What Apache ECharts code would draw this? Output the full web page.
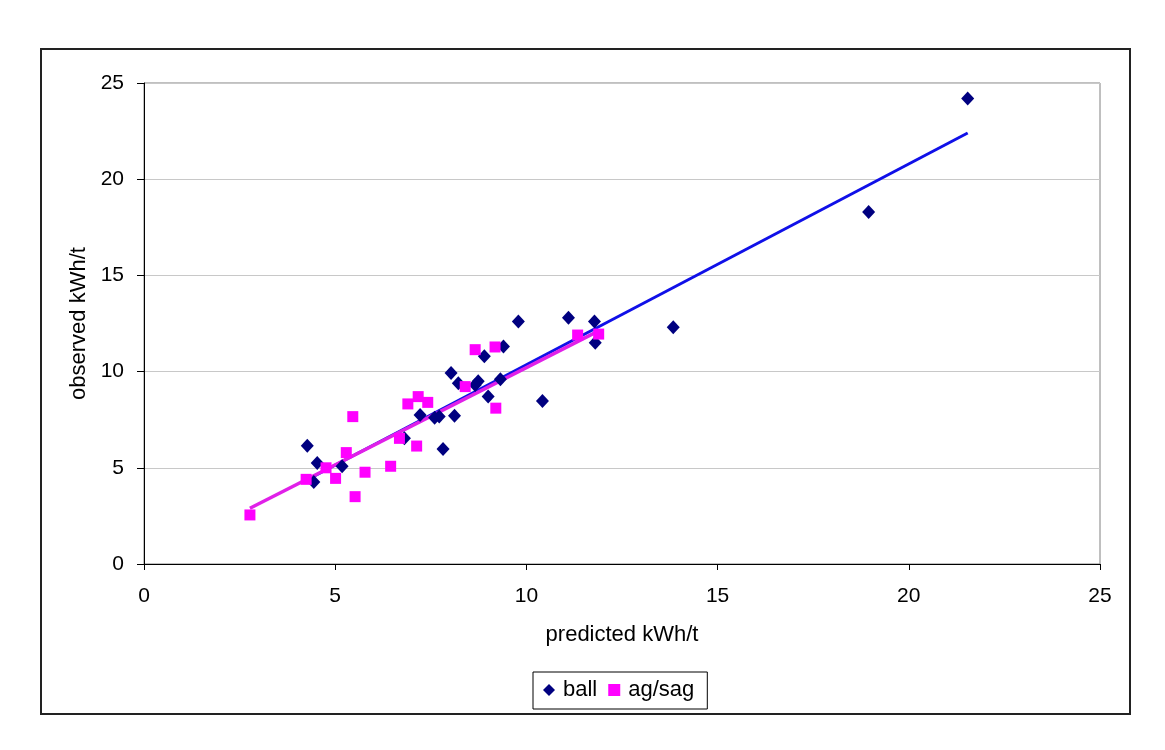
<!DOCTYPE html>
<html>
<head>
<meta charset="utf-8">
<script src="https://cdn.jsdelivr.net/npm/echarts@6/dist/echarts.min.js"></script>
<style>
  html, body { margin: 0; padding: 0; background: #fff; }
  #chart { width: 1165px; height: 750px; }
</style>
</head>
<body>
<div id="chart"></div>
<script>
// ball mills: predicted vs observed kWh/t
var ballPredicted = [4.27, 4.53, 4.44, 5.18, 6.81, 7.22, 7.6, 7.72, 8.12, 7.82, 8.03, 8.22, 8.66,
                     8.74, 9.32, 9.0, 8.9, 9.4, 9.79, 10.42, 11.1, 11.78, 11.8, 13.84, 18.95, 21.54];
var ballObserved  = [6.15, 5.25, 4.26, 5.08, 6.53, 7.74, 7.6, 7.66, 7.7, 5.98, 9.93, 9.4, 9.3,
                     9.5, 9.6, 8.7, 10.8, 11.3, 12.6, 8.47, 12.8, 12.6, 11.5, 12.3, 18.3, 24.2];
// ag/sag mills
var sagPredicted = [2.77, 4.24, 4.76, 5.01, 5.29, 5.46, 5.52, 5.78, 6.45, 6.68, 7.13, 6.9, 7.17,
                    7.42, 8.4, 8.66, 9.18, 9.2, 11.34, 11.89];
var sagObserved  = [2.55, 4.4, 5.0, 4.45, 5.79, 7.66, 3.5, 4.77, 5.08, 6.53, 6.13, 8.32, 8.7,
                    8.4, 9.22, 11.14, 11.28, 8.1, 11.9, 11.95];
// trend line end points
var ballTrend = [[4.27, 4.38], [21.54, 22.4]];
var sagTrend  = [[2.77, 2.9], [11.85, 12.08]];
var axisTicks = [0, 5, 10, 15, 20, 25];

function zip(xs, ys) {
    var out = [];
    for (var i = 0; i < xs.length; i++) {
        out.push([xs[i], ys[i]]);
    }
    return out;
}

var font = 'Liberation Sans, Arial, sans-serif';
var myChart = echarts.init(document.getElementById('chart'));

var option = {
    animation: false,
    textStyle: { fontFamily: font },
    graphic: [{
        type: 'rect',
        shape: { x: 41, y: 49, width: 1089, height: 665 },
        style: { fill: 'none', stroke: '#222', lineWidth: 2 },
        silent: true
    }],
    grid: {
        left: 144, top: 83, right: 65, bottom: 186,
        show: true,
        borderColor: '#808080',
        borderWidth: 1
    },
    legend: {
        left: 533,
        top: 672,
        padding: [7, 13, 8, 10],
        borderColor: '#000',
        borderWidth: 1,
        itemWidth: 12,
        itemHeight: 12,
        itemGap: 11,
        textStyle: { fontFamily: font, fontSize: 22, color: '#000', padding: [0, 0, 0, 3] },
        data: [
            { name: 'ball', icon: 'diamond' },
            { name: 'ag/sag', icon: 'rect' }
        ]
    },
    xAxis: {
        type: 'value',
        min: axisTicks[0],
        max: axisTicks[axisTicks.length - 1],
        interval: 5,
        name: 'predicted kWh/t',
        nameLocation: 'middle',
        nameGap: 60,
        nameTextStyle: { fontFamily: font, fontSize: 22, color: '#000' },
        axisLine: { lineStyle: { color: '#000', width: 1 } },
        axisTick: { inside: false, length: 6, lineStyle: { color: '#000' } },
        axisLabel: { fontFamily: font, fontSize: 21, color: '#000', margin: 22 },
        splitLine: { show: false }
    },
    yAxis: {
        type: 'value',
        min: axisTicks[0],
        max: axisTicks[axisTicks.length - 1],
        interval: 5,
        name: 'observed kWh/t',
        nameLocation: 'middle',
        nameGap: 54,
        nameTextStyle: { fontFamily: font, fontSize: 22, color: '#000' },
        axisLine: { show: true, lineStyle: { color: '#000', width: 1 } },
        axisTick: { show: true, inside: false, length: 7, lineStyle: { color: '#000' } },
        axisLabel: { fontFamily: font, fontSize: 21, color: '#000', margin: 20 },
        splitLine: { show: true, lineStyle: { color: '#c8c8c8', width: 1 } }
    },
    series: [
        {
            name: 'ball trend',
            type: 'line',
            data: ballTrend,
            symbol: 'none',
            lineStyle: { color: '#1010e8', width: 3 },
            silent: true,
            z: 2
        },
        {
            name: 'ag/sag trend',
            type: 'line',
            data: sagTrend,
            symbol: 'none',
            lineStyle: { color: '#e020e8', width: 3.5 },
            silent: true,
            z: 3
        },
        {
            name: 'ball',
            type: 'scatter',
            data: zip(ballPredicted, ballObserved),
            symbol: 'diamond',
            symbolSize: [13, 14],
            itemStyle: { color: '#000080', opacity: 1 },
            z: 4
        },
        {
            name: 'ag/sag',
            type: 'scatter',
            data: zip(sagPredicted, sagObserved),
            symbol: 'rect',
            symbolSize: 11,
            itemStyle: { color: '#ff00ff', opacity: 1 },
            z: 5
        }
    ]
};

myChart.setOption(option);
</script>
</body>
</html>
